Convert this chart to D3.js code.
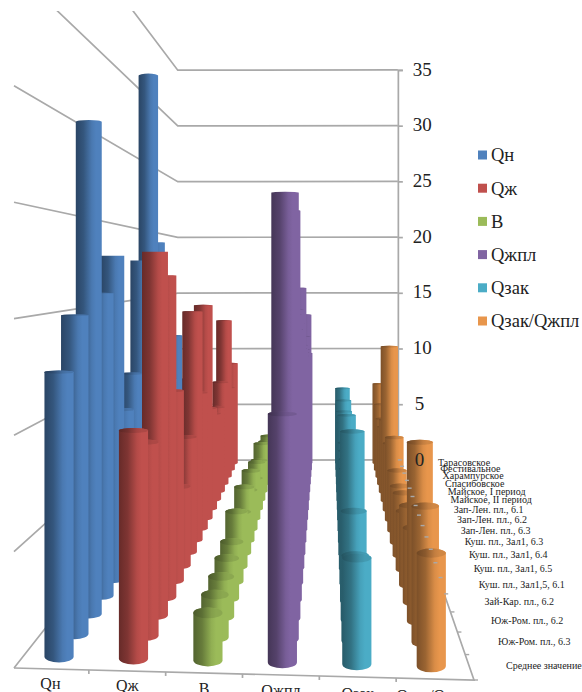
<!DOCTYPE html>
<html>
<head>
<meta charset="utf-8">
<script src="https://cdnjs.cloudflare.com/ajax/libs/d3/7.8.5/d3.min.js"></script>
<style>
  html, body { margin: 0; padding: 0; background: #fff; overflow: hidden; }
  svg { display: block; font-family: "Liberation Serif", serif; }
</style>
</head>
<body>
<svg id="chart" width="582" height="692"></svg>
<script>
// Fields and sections, listed from the back of the chart to the front
const categories = [
  "Тарасовское", "Фестивальное", "Харампурское", "Спасибовское",
  "Майское, I период", "Майское, II период",
  "Зап-Лен. пл., 6.1", "Зап-Лен. пл., 6.2", "Зап-Лен. пл., 6.3",
  "Куш. пл., Зал1, 6.3", "Куш. пл., Зал1, 6.4", "Куш. пл., Зал1, 6.5", "Куш. пл., Зал1,5, 6.1",
  "Зай-Кар. пл., 6.2", "Юж-Ром. пл., 6.2", "Юж-Ром. пл., 6.3", "Среднее значение"
];
const seriesNames = ["Qн", "Qж", "B", "Qжпл", "Qзак", "Qзак/Qжпл"];
const yTicks = [0, 5, 10, 15, 20, 25, 30, 35];

const qn       = [7, 6, 8, 7, 12, 9, 9, 19, 30, 17.7, 10.8, 9, 17.9, 15.9, 24.5, 15, 12.6];
const qzh      = [8.8, 7, 12.9, 8.1, 6.5, 6.4, 7.2, 14.7, 9, 14.5, 7, 4.6, 10.5, 16.9, 18.1, 9.1, 10.1];
const bValues  = [2.4, 2.4, 2.4, 3.2, 2.4, 2.8, 2.2, 3.3, 2.6, 3.4, 2.5, 3.2, 2.2, 2.1, 2, 2, 2.1];
const qzhpl    = [9.7, 9.7, 13.4, 11.8, 11, 11, 11, 12, 12, 16.1, 14, 15, 14, 15, 20.3, 21, 11];
const qzak     = [6.6, 5.6, 6.3, 5.8, 5.8, 5.8, 5.8, 7.2, 5.8, 5.8, 5.8, 5.8, 5.8, 8.9, 5.4, 4, 4.7];
const qzakQzhpl = [7, 5.6, 4.8, 4.6, 5.6, 11.5, 4.8, 5.7, 4, 3.6, 3.8, 3.4, 4.4, 3.9, 8.9, 6.4, 5];

const seriesValues = [qn, qzh, bValues, qzhpl, qzak, qzakQzhpl];
const palette = ["#4f81bd", "#c0504d", "#9bbb59", "#8064a2", "#4bacc6", "#e8964c"];

// Perspective camera for the box: s is the shrink factor at a given depth
const vanishX = 328;
const horizon = d3.scaleLinear().domain([14, 474]).range([269.5, 258]);
const floorFront = d3.scaleLinear().domain([14, 474]).range([668, 680]);
const columnScale = d3.scaleBand().domain(seriesNames).range([12, 473]);
const depthScale = d3.scaleBand().domain(categories).range([1, 0]);
const valueScale = d3.scaleLinear().domain([0, 35]).range([0, 815]);
const shrink = depth => 1 / (1 + 1.09 * depth);

function project(frontX, depth, value) {
  const s = shrink(depth), vy = horizon(frontX);
  return {
    x: vanishX + (frontX - vanishX) * s,
    y: vy + (floorFront(frontX) - vy) * s - valueScale(value) * s,
    s, vy
  };
}

const svg = d3.select("#chart");
const defs = svg.append("defs");
defs.append("clipPath").attr("id", "wall-clip")
  .append("rect").attr("x", 13).attr("y", 11).attr("width", 560).attr("height", 680);

// Side-lit shading for the cylinder bodies and a dimmer version for their caps
function addShade(id, color, dim) {
  const c = d3.rgb(color).darker(dim);
  const g = defs.append("linearGradient").attr("id", id);
  g.append("stop").attr("offset", "0%").attr("stop-color", c.darker(1.75));
  g.append("stop").attr("offset", "30%").attr("stop-color", c.darker(1.15));
  g.append("stop").attr("offset", "62%").attr("stop-color", c.darker(0.18));
  g.append("stop").attr("offset", "78%").attr("stop-color", c);
  g.append("stop").attr("offset", "100%").attr("stop-color", c);
}
palette.forEach((color, i) => {
  addShade("shade-" + i, color, 0);
  addShade("cap-" + i, color, 0.3);
});

// Walls and floor
const wallColor = "#a9a9a9";
const walls = svg.append("g").attr("clip-path", "url(#wall-clip)")
  .attr("fill", "none").attr("stroke", wallColor).attr("stroke-width", 1.7);
yTicks.forEach(v => {
  const backLeft = project(14, 1, v), backRight = project(474, 1, v);
  const frontLeft = project(14, 0, v);
  walls.append("path").attr("d", d3.line()([
    [frontLeft.x, frontLeft.y], [backLeft.x, backLeft.y], [backRight.x, backRight.y]
  ]));
});
const corner = (x, d) => { const p = project(x, d, 0); return [p.x, p.y]; };
walls.append("path").attr("d", d3.line()([corner(474, 1), corner(474, 0), corner(14, 0)]));
seriesNames.slice(0, -1).forEach(name => {
  const p = project(columnScale(name) + columnScale.bandwidth(), 0, 0);
  walls.append("line").attr("x1", p.x).attr("x2", p.x).attr("y1", p.y).attr("y2", p.y + 4);
});

// Value axis line and ticks on the right-hand edge of the back wall
const axisScale = d3.scaleLinear().domain([0, 35])
  .range([project(474, 1, 0).y, project(474, 1, 35).y]);
const axisX = project(474, 1, 0).x;
const yAxis = svg.append("g")
  .attr("transform", `translate(${axisX},0)`)
  .call(d3.axisRight(axisScale).tickValues(yTicks).tickSize(5).tickFormat(""));
yAxis.selectAll("path, line").attr("stroke", wallColor).attr("stroke-width", 1.7);

// Cylinders, painted from the back row forwards so nearer ones overlap farther ones
const cylinders = [];
categories.forEach((cat, j) => seriesNames.forEach((name, i) => {
  cylinders.push({ cat, name, i, value: seriesValues[i][j], depth: depthScale(cat) + depthScale.bandwidth() / 2 });
}));
cylinders.sort((a, b) => b.depth - a.depth);

const halfWidth = columnScale.bandwidth() * 0.196;
const flatten = 0.016;
const marks = svg.append("g").selectAll("g").data(cylinders).join("g");
marks.each(function (d) {
  const cx = columnScale(d.name) + columnScale.bandwidth() / 2;
  const base = project(cx, d.depth, 0), top = project(cx, d.depth, d.value);
  const r = halfWidth * base.s;
  const ryBase = flatten * base.s * Math.abs(base.y - base.vy);
  const ryTop = flatten * base.s * Math.abs(top.y - base.vy);
  const g = d3.select(this);
  g.append("path")
    .attr("fill", `url(#shade-${d.i})`)
    .attr("d", `M${base.x - r},${top.y} A${r},${ryTop} 0 0 1 ${base.x + r},${top.y}` +
      ` L${base.x + r},${base.y} A${r},${ryBase} 0 0 1 ${base.x - r},${base.y} Z`);
  if (top.y > base.vy) {
    g.append("ellipse")
      .attr("cx", base.x).attr("cy", top.y).attr("rx", r).attr("ry", ryTop)
      .attr("fill", `url(#cap-${d.i})`);
  }
});

// Value labels sit above the cylinders
svg.append("g").selectAll("text").data(yTicks).join("text")
  .attr("x", v => axisX + (v < 10 ? 17 : 15))
  .attr("y", v => axisScale(v) - 1)
  .attr("dy", "0.35em")
  .attr("font-size", 19).attr("fill", "#222")
  .text(v => v);

// Depth ticks along the right floor edge, with the category names beside them
const tickGroup = svg.append("g").attr("stroke", wallColor).attr("stroke-width", 1.4);
const depthStep = depthScale.bandwidth();
d3.range(0, categories.length + 1).forEach(n => {
  const p = project(474, n * depthStep, 0);
  tickGroup.append("line").attr("x1", p.x).attr("x2", p.x + 4).attr("y1", p.y).attr("y2", p.y);
});

const labelX = d3.scaleLinear().domain([0.486, 0.969]).range([438, 506]);
svg.append("g").selectAll("text").data(categories).join("text")
  .attr("x", c => labelX(shrink(depthScale(c) + depthStep / 2)))
  .attr("y", c => project(474, depthScale(c) + depthStep / 2, 0).y - 1)
  .attr("dy", "0.35em")
  .attr("font-size", 10).attr("fill", "#1c1c1c")
  .text(c => c);

// Series names under the front edge of the floor
const nameBaseline = d3.scaleLinear().domain([50, 435]).range([689, 701]);
svg.append("g").selectAll("text").data(seriesNames).join("text")
  .attr("x", n => columnScale(n) + columnScale.bandwidth() / 2)
  .attr("y", n => nameBaseline(columnScale(n) + columnScale.bandwidth() / 2))
  .attr("text-anchor", "middle").attr("font-size", 16).attr("fill", "#222")
  .text(n => n);

// Legend
const legendY = d3.scalePoint().domain(seriesNames).range([155, 321]);
const legend = svg.append("g").selectAll("g").data(seriesNames).join("g")
  .attr("transform", n => `translate(478,${legendY(n)})`);
legend.append("rect").attr("x", 0).attr("y", -4.5).attr("width", 9).attr("height", 9)
  .attr("fill", (n, i) => palette[i]);
legend.append("text").attr("x", 13).attr("dy", "0.35em")
  .attr("font-size", 18.5).attr("fill", "#222").text(n => n);
</script>
</body>
</html>
